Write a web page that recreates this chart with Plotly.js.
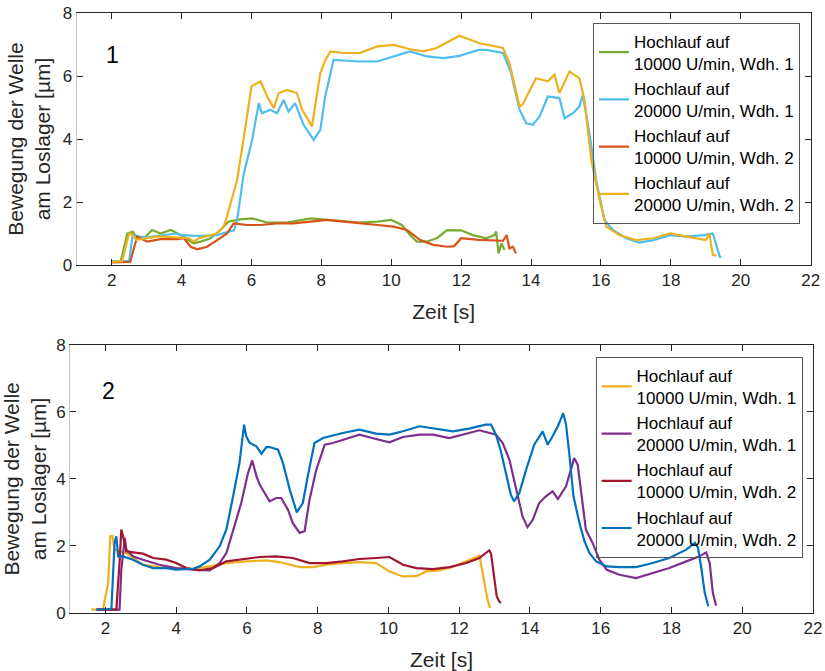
<!DOCTYPE html>
<html>
<head>
<meta charset="utf-8">
<script src="https://cdn.plot.ly/plotly-3.0.1.min.js"></script>
<style>html,body{margin:0;padding:0;background:#fff;}#chart{width:825px;height:671px;}</style>
</head>
<body>
<div id="chart"></div>
<script>
// ---------- Data: panel 1 ----------
const legendNames = [
  "Hochlauf auf<br>10000 U/min, Wdh. 1",
  "Hochlauf auf<br>20000 U/min, Wdh. 1",
  "Hochlauf auf<br>10000 U/min, Wdh. 2",
  "Hochlauf auf<br>20000 U/min, Wdh. 2"
];
const xTicks = [2, 4, 6, 8, 10, 12, 14, 16, 18, 20, 22];
const yTicks = [0, 2, 4, 6, 8];

const p1_10k_w1_t = [2.0, 2.26, 2.45, 2.6, 2.73, 2.92, 3.16, 3.4, 3.69, 3.97, 4.35, 4.54, 4.83, 5.11, 5.35, 5.68, 6.02, 6.45, 7.02, 7.7, 8.16, 8.64, 9.1, 9.6, 10.0, 10.3, 10.54, 10.73, 11.0, 11.3, 11.6, 12.0, 12.33, 12.72, 12.95, 13.0, 13.07, 13.15, 13.24];
const p1_10k_w1_v = [0.1, 0.12, 1.0, 1.06, 0.85, 0.85, 1.11, 1.0, 1.11, 0.95, 0.69, 0.74, 0.85, 1.11, 1.38, 1.45, 1.48, 1.35, 1.35, 1.48, 1.43, 1.38, 1.35, 1.38, 1.43, 1.27, 0.95, 0.74, 0.74, 0.85, 1.11, 1.1, 0.95, 0.85, 0.95, 1.06, 0.37, 0.69, 0.48];

const p1_20k_w1_t = [2.0, 2.5, 2.6, 2.8, 3.0, 3.5, 3.85, 4.0, 4.5, 5.0, 5.5, 5.59, 5.78, 6.02, 6.21, 6.3, 6.54, 6.73, 6.92, 7.06, 7.25, 7.49, 7.78, 7.97, 8.11, 8.35, 9.11, 9.6, 10.07, 10.54, 11.02, 11.5, 11.95, 12.5, 12.72, 13.2, 13.43, 13.67, 13.86, 14.05, 14.24, 14.48, 14.81, 14.96, 15.2, 15.38, 15.48, 15.67, 15.86, 16.1, 16.34, 16.72, 17.1, 17.5, 17.98, 18.45, 18.93, 19.2, 19.4, 19.44];
const p1_20k_w1_v = [0.12, 0.12, 0.95, 0.9, 0.88, 0.95, 1.0, 0.95, 0.92, 0.95, 1.1, 1.43, 2.9, 3.97, 5.14, 4.82, 4.93, 4.82, 5.24, 4.87, 5.14, 4.45, 3.97, 4.29, 5.35, 6.51, 6.46, 6.46, 6.62, 6.78, 6.62, 6.57, 6.64, 6.83, 6.83, 6.73, 6.09, 4.93, 4.5, 4.45, 4.71, 5.35, 5.3, 4.66, 4.82, 5.03, 5.4, 4.18, 2.7, 1.43, 1.11, 0.85, 0.71, 0.79, 0.95, 0.9, 0.95, 1.0, 0.26, 0.25];

const p1_10k_w2_t = [2.0, 2.53, 2.73, 3.02, 3.4, 3.88, 4.07, 4.26, 4.45, 4.73, 5.02, 5.3, 5.49, 5.87, 6.26, 6.73, 7.2, 7.68, 8.16, 8.64, 9.1, 9.6, 10.07, 10.45, 10.83, 11.2, 11.6, 11.8, 12.0, 12.5, 13.2, 13.3, 13.38, 13.48, 13.57];
const p1_10k_w2_v = [0.08, 0.1, 0.9, 0.74, 0.82, 0.82, 0.85, 0.58, 0.5, 0.58, 0.79, 1.0, 1.32, 1.27, 1.27, 1.32, 1.32, 1.38, 1.43, 1.38, 1.32, 1.27, 1.22, 1.11, 0.79, 0.64, 0.58, 0.6, 0.85, 0.8, 0.77, 0.95, 0.53, 0.58, 0.37];

const p1_20k_w2_t = [2.0, 2.3, 2.5, 2.6, 2.7, 3.0, 3.3, 3.5, 4.0, 4.2, 4.35, 4.5, 5.0, 5.2, 5.3, 5.59, 5.83, 6.0, 6.26, 6.45, 6.64, 6.78, 7.02, 7.3, 7.45, 7.73, 7.97, 8.11, 8.26, 8.64, 9.1, 9.6, 10.07, 10.54, 10.92, 11.3, 11.95, 12.53, 13.2, 13.38, 13.67, 13.76, 14.14, 14.48, 14.67, 14.81, 15.1, 15.38, 15.53, 15.72, 15.96, 16.15, 16.53, 17.0, 17.5, 17.98, 18.45, 19.0, 19.1, 19.2, 19.3];
const p1_20k_w2_v = [0.1, 0.12, 1.0, 0.95, 0.8, 0.85, 0.9, 0.9, 0.85, 0.85, 0.75, 0.85, 1.0, 1.2, 1.54, 2.7, 4.4, 5.67, 5.83, 5.35, 4.98, 5.46, 5.56, 5.46, 4.93, 4.4, 6.09, 6.5, 6.78, 6.73, 6.73, 6.94, 6.99, 6.85, 6.78, 6.89, 7.28, 7.04, 6.89, 6.41, 5.03, 5.1, 5.93, 5.83, 6.04, 5.46, 6.14, 5.93, 5.24, 3.34, 2.07, 1.22, 0.95, 0.79, 0.85, 1.0, 0.9, 0.79, 1.0, 0.32, 0.29];

// ---------- Data: panel 2 ----------
const p2_10k_w1_t = [1.6, 1.93, 2.08, 2.14, 2.2, 2.26, 2.4, 2.59, 3.06, 3.53, 4.0, 4.48, 4.95, 5.42, 5.98, 6.55, 6.92, 7.49, 7.87, 8.24, 8.71, 9.18, 9.65, 10.03, 10.41, 10.79, 11.07, 11.43, 11.81, 12.28, 12.57, 12.61, 12.71, 12.8, 12.87];
const p2_10k_w1_v = [0.1, 0.1, 0.9, 2.29, 2.3, 1.89, 1.84, 1.79, 1.44, 1.37, 1.34, 1.32, 1.39, 1.49, 1.54, 1.57, 1.52, 1.37, 1.37, 1.44, 1.49, 1.52, 1.49, 1.24, 1.09, 1.1, 1.24, 1.27, 1.37, 1.59, 1.71, 1.49, 0.89, 0.4, 0.15];

const p2_20k_w1_t = [1.75, 2.4, 2.45, 2.55, 2.59, 2.78, 3.06, 3.53, 4.0, 4.48, 4.95, 5.23, 5.42, 5.61, 5.84, 6.03, 6.15, 6.27, 6.36, 6.64, 6.83, 6.97, 7.16, 7.3, 7.49, 7.63, 7.77, 7.96, 8.2, 8.43, 8.71, 9.18, 9.65, 10.03, 10.41, 10.88, 11.26, 11.72, 12.28, 12.57, 13.04, 13.23, 13.42, 13.6, 13.79, 13.93, 14.08, 14.26, 14.45, 14.64, 14.79, 15.02, 15.16, 15.25, 15.35, 15.49, 15.58, 15.77, 15.96, 16.17, 16.53, 17.0, 17.47, 17.94, 18.42, 18.79, 18.98, 19.08, 19.17, 19.26];
const p2_20k_w1_v = [0.1, 0.1, 1.29, 2.24, 1.89, 1.69, 1.59, 1.44, 1.34, 1.29, 1.27, 1.49, 1.79, 2.49, 3.28, 4.17, 4.55, 4.08, 3.83, 3.33, 3.43, 3.43, 3.08, 2.68, 2.39, 2.44, 3.38, 4.27, 5.02, 5.07, 5.17, 5.32, 5.19, 5.09, 5.25, 5.32, 5.32, 5.22, 5.37, 5.45, 5.32, 5.07, 4.57, 3.78, 2.88, 2.56, 2.78, 3.28, 3.48, 3.63, 3.4, 3.78, 4.27, 4.62, 4.42, 3.28, 2.49, 2.09, 1.59, 1.29, 1.14, 1.04, 1.19, 1.34, 1.54, 1.69, 1.81, 1.49, 0.6, 0.22];

const p2_10k_w2_t = [1.75, 2.31, 2.4, 2.45, 2.5, 2.59, 2.78, 3.06, 3.35, 3.72, 4.0, 4.29, 4.66, 5.04, 5.42, 5.89, 6.36, 6.83, 7.3, 7.77, 8.24, 8.71, 9.18, 9.65, 10.03, 10.41, 10.79, 11.26, 11.73, 12.2, 12.57, 12.75, 12.85, 12.9, 12.99, 13.06, 13.13, 13.18];
const p2_10k_w2_v = [0.1, 0.1, 1.49, 2.49, 2.29, 1.84, 1.81, 1.77, 1.64, 1.59, 1.49, 1.34, 1.27, 1.34, 1.54, 1.61, 1.67, 1.69, 1.64, 1.49, 1.49, 1.54, 1.61, 1.64, 1.67, 1.44, 1.34, 1.31, 1.37, 1.49, 1.64, 1.79, 1.87, 1.77, 1.09, 0.5, 0.35, 0.3];

const p2_20k_w2_t = [1.75, 2.17, 2.26, 2.31, 2.36, 2.5, 2.78, 3.06, 3.35, 3.72, 4.0, 4.48, 4.66, 4.95, 5.23, 5.42, 5.61, 5.79, 5.92, 5.98, 6.08, 6.27, 6.41, 6.55, 6.64, 6.88, 7.02, 7.21, 7.41, 7.58, 7.72, 7.91, 8.15, 8.71, 9.18, 9.65, 10.03, 10.41, 10.88, 11.35, 11.82, 12.28, 12.75, 12.9, 13.04, 13.18, 13.32, 13.46, 13.55, 13.7, 13.89, 14.12, 14.36, 14.5, 14.64, 14.79, 14.94, 15.02, 15.11, 15.23, 15.4, 15.54, 15.68, 15.87, 16.17, 16.53, 17.0, 17.47, 17.94, 18.42, 18.66, 18.75, 18.85, 18.94, 19.04];
const p2_20k_w2_v = [0.1, 0.12, 2.09, 2.29, 1.69, 1.69, 1.59, 1.44, 1.34, 1.34, 1.29, 1.32, 1.39, 1.59, 1.99, 2.49, 3.48, 4.47, 5.62, 5.27, 5.07, 4.97, 4.75, 4.95, 4.95, 4.87, 4.47, 3.68, 3.0, 3.28, 4.08, 5.07, 5.22, 5.37, 5.47, 5.35, 5.32, 5.42, 5.57, 5.49, 5.42, 5.5, 5.62, 5.62, 5.32, 4.82, 4.17, 3.53, 3.33, 3.58, 4.27, 5.02, 5.42, 5.02, 5.27, 5.57, 5.96, 5.62, 4.77, 3.48, 2.68, 2.14, 1.79, 1.54, 1.39, 1.37, 1.37, 1.49, 1.64, 1.89, 2.09, 1.95, 1.29, 0.6, 0.2];

// ---------- Styles ----------
const colors1 = ["#77AC30", "#4DBEEE", "#D95319", "#EDB120"];
const colors2 = ["#EDB120", "#7E2F8E", "#A2142F", "#0072BD"];
const FONT = "Liberation Sans, Arial, Helvetica, sans-serif";
const DARK = "#262626";

const p1 = [[p1_10k_w1_t, p1_10k_w1_v], [p1_20k_w1_t, p1_20k_w1_v], [p1_10k_w2_t, p1_10k_w2_v], [p1_20k_w2_t, p1_20k_w2_v]];
const p2 = [[p2_10k_w1_t, p2_10k_w1_v], [p2_20k_w1_t, p2_20k_w1_v], [p2_10k_w2_t, p2_10k_w2_v], [p2_20k_w2_t, p2_20k_w2_v]];

const traces = [];
p1.forEach((d, i) => traces.push({
  x: d[0], y: d[1], type: "scatter", mode: "lines", name: legendNames[i],
  line: {color: colors1[i], width: 2.2}, xaxis: "x", yaxis: "y", legend: "legend"
}));
p2.forEach((d, i) => traces.push({
  x: d[0], y: d[1], type: "scatter", mode: "lines", name: legendNames[i],
  line: {color: colors2[i], width: 2.2}, xaxis: "x2", yaxis: "y2", legend: "legend2"
}));

function xAxis(domain, anchor) {
  return {
    domain: domain, anchor: anchor, range: [1, 22], tickvals: xTicks,
    ticks: "inside", ticklen: 6, tickcolor: DARK, showline: true, linecolor: DARK,
    linewidth: 1, mirror: "ticks", showgrid: false, zeroline: false,
    tickfont: {size: 17, color: DARK, family: FONT},
    title: {text: "Zeit [s]", font: {size: 21, color: DARK, family: FONT}, standoff: 14},
    automargin: false
  };
}
function yAxis(domain, anchor) {
  return {
    domain: domain, anchor: anchor, range: [0, 8], tickvals: yTicks,
    ticks: "inside", ticklen: 6, tickcolor: DARK, showline: true, linecolor: "#c4c4c4",
    linewidth: 1, mirror: false, showgrid: false, zeroline: false,
    tickfont: {size: 17, color: DARK, family: FONT},
    title: {text: "Bewegung der Welle<br>am Loslager [µm]", font: {size: 21, color: DARK, family: FONT}, standoff: 6},
    automargin: false
  };
}
function yRight(overlay, anchor) {
  return {
    overlaying: overlay, anchor: anchor, side: "right", range: [0, 8], tickvals: yTicks,
    ticks: "inside", ticklen: 6, tickcolor: DARK, showline: true, linecolor: DARK,
    linewidth: 1, showticklabels: false, showgrid: false, zeroline: false
  };
}
function legendCfg(x, y) {
  return {
    x: x, y: y, xanchor: "right", yanchor: "top", bgcolor: "rgba(255,255,255,0)",
    bordercolor: "#555555", borderwidth: 1, font: {size: 17, color: "#000", family: FONT},
    tracegroupgap: 0, itemwidth: 30
  };
}

const layout = {
  width: 825, height: 671,
  margin: {l: 70, r: 12, t: 13, b: 58},
  paper_bgcolor: "#ffffff", plot_bgcolor: "#ffffff",
  font: {family: FONT, color: DARK},
  showlegend: true,
  xaxis: xAxis([0.009, 0.9969], "y"),
  yaxis: yAxis([0.58, 1.0], "x"),
  yaxis3: yRight("y", "x"),
  xaxis2: xAxis([0.0, 1.0], "y2"),
  yaxis2: yAxis([0.0, 0.447], "x2"),
  yaxis4: yRight("y2", "x2"),
  legend: legendCfg(0.9825, 0.984),
  legend2: legendCfg(0.986, 0.427),
  annotations: [
    {text: "1", xref: "x domain", yref: "y domain", x: 0.049, y: 0.833, showarrow: false,
     font: {size: 23, color: "#000", family: FONT}, xanchor: "center", yanchor: "middle"},
    {text: "2", xref: "x2 domain", yref: "y2 domain", x: 0.052, y: 0.827, showarrow: false,
     font: {size: 23, color: "#000", family: FONT}, xanchor: "center", yanchor: "middle"}
  ]
};

// empty traces so the overlaid right-hand axes render
traces.push({x: [], y: [], xaxis: "x", yaxis: "y3", showlegend: false, hoverinfo: "skip"});
traces.push({x: [], y: [], xaxis: "x2", yaxis: "y4", showlegend: false, hoverinfo: "skip"});

Plotly.newPlot("chart", traces, layout, {staticPlot: true, displayModeBar: false});
</script>
</body>
</html>
